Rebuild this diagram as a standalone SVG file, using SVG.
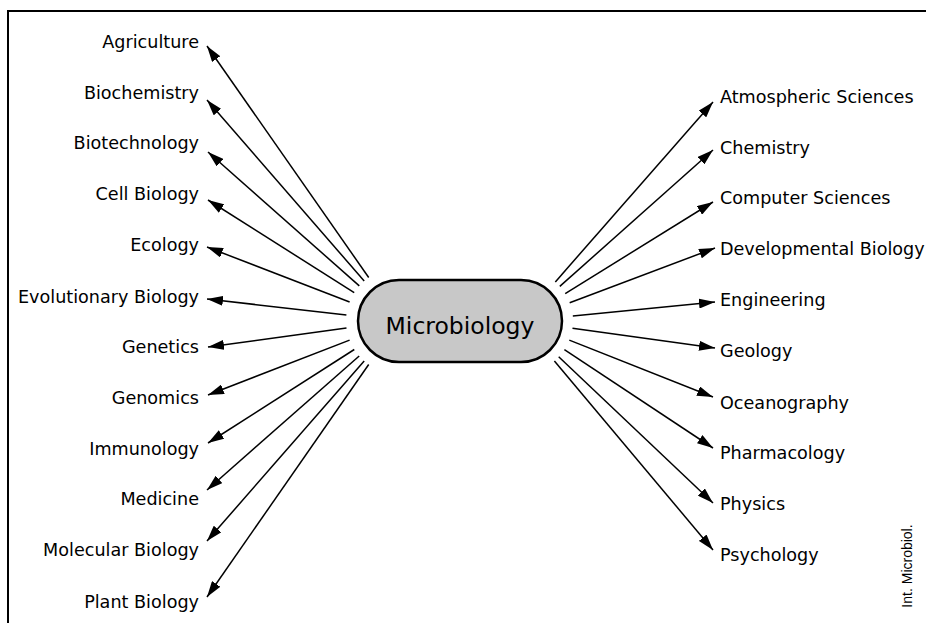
<svg xmlns="http://www.w3.org/2000/svg" width="926" height="623" viewBox="0 0 926 623">
<style>
.lbl{font-family:"DejaVu Sans","Open Sans",sans-serif;font-size:17.6px;fill:#000}
.l{text-anchor:end}
.c line{stroke:#000;stroke-width:1.5}
.frame{stroke:#000;stroke-width:2;fill:none}
</style>
<defs>
<marker id="ah" viewBox="0 0 16 10" markerWidth="16" markerHeight="10" refX="16" refY="5" orient="auto" markerUnits="userSpaceOnUse">
<path d="M0,0 L16,5 L0,10 z" fill="#000"/>
</marker>
</defs>
<rect width="926" height="623" fill="#fff"/>
<path class="frame" d="M8,623 V11 H926"/>
<g id="connectors" class="c">
<line x1="368.7" y1="277.5" x2="207" y2="46" marker-end="url(#ah)"/>
<line x1="364.2" y1="281" x2="207" y2="100" marker-end="url(#ah)"/>
<line x1="359.3" y1="285.9" x2="208" y2="152" marker-end="url(#ah)"/>
<line x1="354.2" y1="292.6" x2="208" y2="200" marker-end="url(#ah)"/>
<line x1="349.6" y1="302" x2="207" y2="247" marker-end="url(#ah)"/>
<line x1="346.4" y1="315" x2="207" y2="299" marker-end="url(#ah)"/>
<line x1="346.5" y1="328.1" x2="208" y2="347" marker-end="url(#ah)"/>
<line x1="349.6" y1="340.1" x2="208" y2="395" marker-end="url(#ah)"/>
<line x1="354.3" y1="349.5" x2="208" y2="443" marker-end="url(#ah)"/>
<line x1="359.2" y1="356" x2="207" y2="490" marker-end="url(#ah)"/>
<line x1="364.2" y1="360.9" x2="207" y2="541" marker-end="url(#ah)"/>
<line x1="368.7" y1="364.5" x2="207" y2="597" marker-end="url(#ah)"/>
<line x1="555.3" y1="281.9" x2="713" y2="102" marker-end="url(#ah)"/>
<line x1="559.8" y1="286.4" x2="713" y2="150" marker-end="url(#ah)"/>
<line x1="565.2" y1="293.6" x2="713" y2="202" marker-end="url(#ah)"/>
<line x1="569.7" y1="302.7" x2="715" y2="248" marker-end="url(#ah)"/>
<line x1="572.8" y1="315.9" x2="715" y2="302" marker-end="url(#ah)"/>
<line x1="572.5" y1="328.2" x2="715" y2="348" marker-end="url(#ah)"/>
<line x1="569.3" y1="340.1" x2="713" y2="397" marker-end="url(#ah)"/>
<line x1="564.4" y1="349.7" x2="713" y2="448" marker-end="url(#ah)"/>
<line x1="558.7" y1="356.8" x2="713" y2="503" marker-end="url(#ah)"/>
<line x1="554.4" y1="360.9" x2="713" y2="550" marker-end="url(#ah)"/>
</g>
<g id="microbiology">
<rect x="358" y="280" width="204" height="82" rx="41" ry="41" fill="#c8c8c8" stroke="#000" stroke-width="2.5"/>
<text x="460" y="334" text-anchor="middle" font-family="DejaVu Sans, Open Sans, sans-serif" font-size="23.5" fill="#000">Microbiology</text>
</g>
<g id="agriculture"><text class="lbl l" x="199" y="48">Agriculture</text></g>
<g id="biochemistry"><text class="lbl l" x="199" y="99">Biochemistry</text></g>
<g id="biotechnology"><text class="lbl l" x="199" y="149">Biotechnology</text></g>
<g id="cell-biology"><text class="lbl l" x="199" y="200">Cell Biology</text></g>
<g id="ecology"><text class="lbl l" x="199" y="251">Ecology</text></g>
<g id="evolutionary-biology"><text class="lbl l" x="199" y="303">Evolutionary Biology</text></g>
<g id="genetics"><text class="lbl l" x="199" y="353">Genetics</text></g>
<g id="genomics"><text class="lbl l" x="199" y="404">Genomics</text></g>
<g id="immunology"><text class="lbl l" x="199" y="455">Immunology</text></g>
<g id="medicine"><text class="lbl l" x="199" y="505">Medicine</text></g>
<g id="molecular-biology"><text class="lbl l" x="199" y="556">Molecular Biology</text></g>
<g id="plant-biology"><text class="lbl l" x="199" y="608">Plant Biology</text></g>
<g id="atmospheric-sciences"><text class="lbl" x="720" y="103">Atmospheric Sciences</text></g>
<g id="chemistry"><text class="lbl" x="720" y="154">Chemistry</text></g>
<g id="computer-sciences"><text class="lbl" x="720" y="204">Computer Sciences</text></g>
<g id="developmental-biology"><text class="lbl" x="720" y="255">Developmental Biology</text></g>
<g id="engineering"><text class="lbl" x="720" y="306">Engineering</text></g>
<g id="geology"><text class="lbl" x="720" y="357">Geology</text></g>
<g id="oceanography"><text class="lbl" x="720" y="409">Oceanography</text></g>
<g id="pharmacology"><text class="lbl" x="720" y="459">Pharmacology</text></g>
<g id="physics"><text class="lbl" x="720" y="510">Physics</text></g>
<g id="psychology"><text class="lbl" x="720" y="561">Psychology</text></g>
<text x="0" y="0" transform="translate(912,566) rotate(-90)" text-anchor="middle" font-family="Liberation Sans, Arial, sans-serif" font-size="14" fill="#000">Int. Microbiol.</text>
</svg>
